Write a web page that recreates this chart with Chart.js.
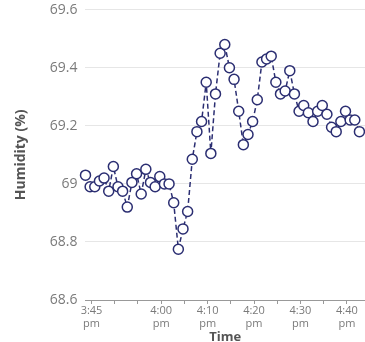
<!DOCTYPE html>
<html>
<head>
<meta charset="utf-8">
<script src="https://cdn.jsdelivr.net/npm/chart.js@4/dist/chart.umd.min.js"></script>
<style>
  html, body { margin: 0; padding: 0; background: #fff; overflow: hidden; }
  #wrap { width: 365px; height: 342px; position: relative; }
</style>
</head>
<body>
<div id="wrap"><canvas id="humidityChart"></canvas></div>
<script>
// readings, one a minute
const readingTimes = [
  '15:43:42', '15:44:42', '15:45:42', '15:46:42', '15:47:42', '15:48:42', '15:49:42', '15:50:42', '15:51:42', '15:52:42',
  '15:53:42', '15:54:42', '15:55:42', '15:56:42', '15:57:42', '15:58:42', '15:59:42', '16:00:42', '16:01:42', '16:02:42',
  '16:03:42', '16:04:42', '16:05:42', '16:06:42', '16:07:42', '16:08:42', '16:09:42', '16:10:42', '16:11:42', '16:12:42',
  '16:13:42', '16:14:42', '16:15:42', '16:16:42', '16:17:42', '16:18:42', '16:19:42', '16:20:42', '16:21:42', '16:22:42',
  '16:23:42', '16:24:42', '16:25:42', '16:26:42', '16:27:42', '16:28:42', '16:29:42', '16:30:42', '16:31:42', '16:32:42',
  '16:33:42', '16:34:42', '16:35:42', '16:36:42', '16:37:42', '16:38:42', '16:39:42', '16:40:42', '16:41:42', '16:42:42',
];
const humidityValues = [
  69.03, 68.99, 68.99, 69.01, 69.02, 68.975, 69.06, 68.99, 68.975, 68.92,
  69.005, 69.035, 68.965, 69.05, 69.005, 68.99, 69.025, 69.0, 69.0, 68.935,
  68.775, 68.845, 68.905, 69.085, 69.18, 69.215, 69.35, 69.105, 69.31, 69.45,
  69.48, 69.4, 69.36, 69.25, 69.135, 69.17, 69.215, 69.29, 69.42, 69.43,
  69.44, 69.35, 69.31, 69.32, 69.39, 69.31, 69.25, 69.27, 69.245, 69.215,
  69.25, 69.27, 69.24, 69.195, 69.18, 69.215, 69.25, 69.22, 69.22, 69.18,
];

// x ticks every 5 minutes after 3:45 pm, only some are labelled
const xTickMinutes = [0, 5, 10, 15, 20, 25, 30, 35, 40, 45, 50, 55];
const xTickLabels = ['3:45', '', '', '4:00', '', '4:10', '', '4:20', '', '4:30', '', '4:40'];
const X_MAX_TIME = '16:43:54';

const LINE_COLOR = '#2b2e72';
const TICK_COLOR = '#7a7a7a';
const TITLE_COLOR = '#555';

// minutes since 3:45 pm
function toMinutes(t) {
  const [h, m, s] = t.split(':').map(Number);
  return h * 60 + m + s / 60 - (15 * 60 + 45);
}

const points = readingTimes.map((t, i) => ({ x: toMinutes(t), y: humidityValues[i] }));

new Chart(document.getElementById('humidityChart'), {
  type: 'line',
  data: {
    datasets: [
      {
        label: 'Humidity',
        data: points,
        borderColor: LINE_COLOR,
        borderWidth: 1.5,
        borderDash: [5, 3],
        pointRadius: 5,
        pointBorderWidth: 1.5,
        pointBackgroundColor: '#fff',
        pointBorderColor: LINE_COLOR,
        tension: 0,
        clip: false,
      },
    ],
  },
  options: {
    responsive: true,
    maintainAspectRatio: false,
    animation: false,
    layout: { autoPadding: false, padding: { top: 0, right: 0, bottom: -2, left: 13 } },
    plugins: { legend: { display: false }, tooltip: { enabled: false } },
    scales: {
      x: {
        type: 'linear',
        min: toMinutes(readingTimes[0]),
        max: toMinutes(X_MAX_TIME),
        afterBuildTicks: (scale) => {
          scale.ticks = xTickMinutes.map((v) => ({ value: v }));
        },
        ticks: {
          autoSkip: false,
          maxRotation: 0,
          color: TICK_COLOR,
          font: { family: 'Open Sans', size: 11, lineHeight: '13.5px' },
          padding: 0,
          callback: (value) => {
            const idx = xTickMinutes.indexOf(value);
            const label = idx >= 0 ? xTickLabels[idx] : '';
            return label ? [label, 'pm'] : '';
          },
        },
        grid: { display: true, drawOnChartArea: false, drawTicks: true, tickLength: 4, color: '#999' },
        border: { display: true, color: '#999' },
        title: {
          display: true,
          text: 'Time',
          color: TITLE_COLOR,
          font: { family: 'Open Sans', size: 13, weight: 'bold', lineHeight: '13px' },
          padding: { top: 0, bottom: 0 },
        },
      },
      y: {
        min: 68.6,
        max: 69.6,
        ticks: {
          stepSize: 0.2,
          color: TICK_COLOR,
          font: { family: 'Open Sans', size: 14, lineHeight: 1.1 },
          padding: 2,
          callback: (value) => String(Math.round(value * 10) / 10),
        },
        grid: { color: '#e6e6e6', drawTicks: true, tickLength: 6, tickColor: 'rgba(0,0,0,0)' },
        border: { display: false },
        title: {
          display: true,
          text: 'Humidity (%)',
          color: TITLE_COLOR,
          font: { family: 'Open Sans', size: 14, weight: 'bold' },
          padding: { top: 0, bottom: 18 },
        },
      },
    },
  },
});
</script>
</body>
</html>
